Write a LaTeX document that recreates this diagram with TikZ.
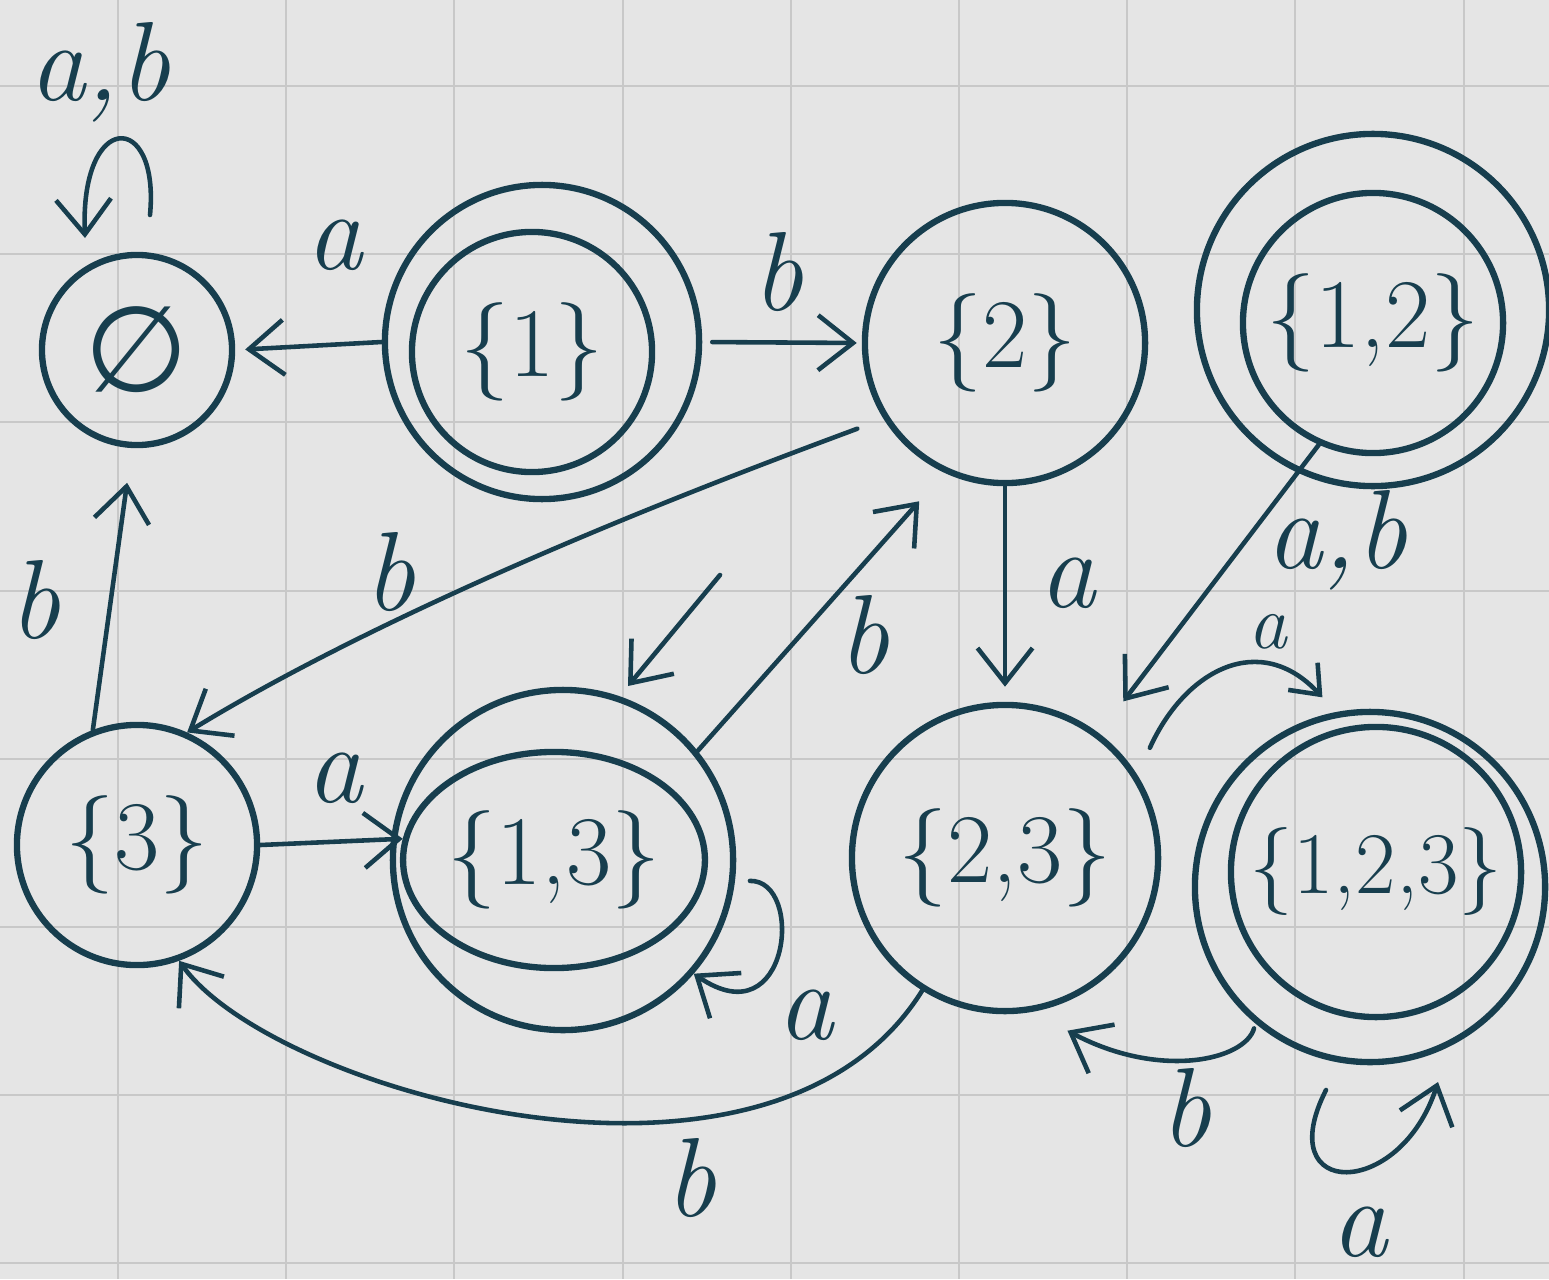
\documentclass[tikz,border=0pt]{standalone}
\usepackage{fontspec}
\newfontfamily\symfont{DejaVu Sans}
\usetikzlibrary{arrows.meta,shapes.geometric}
\definecolor{ink}{HTML}{173E4E}
\definecolor{bgc}{HTML}{E5E5E5}
\definecolor{gridc}{HTML}{C8C8C8}
\begin{document}
\begin{tikzpicture}[x=0.01cm,y=-0.01cm,
  st/.style={circle,draw=ink,line width=1.8pt,inner sep=0pt,text=ink,font=\fontsize{28}{32}\selectfont},
  el/.style={ellipse,draw=ink,line width=1.8pt,inner sep=0pt,text=ink,font=\fontsize{28}{32}\selectfont},
  edge/.style={draw=ink,line width=1.3pt,line cap=round,-{Straight Barb[length=3.5mm,width=5.5mm,line width=1.3pt]}},
  smalledge/.style={draw=ink,line width=1.3pt,line cap=round,-{Straight Barb[length=2.5mm,width=4mm,line width=1.3pt]}},
  lbl/.style={text=ink,inner sep=0pt,font=\fontsize{32}{36}\selectfont\itshape},
  smalllbl/.style={text=ink,inner sep=0pt,font=\fontsize{22}{26}\selectfont\itshape},
  gridline/.style={draw=gridc,line width=0.6pt}]
\useasboundingbox (0,0) rectangle (1549,1279);
\fill[bgc] (0,0) rectangle (1549,1279);
\foreach \i in {0,...,8} \draw[gridline] ({118+168.2*\i},0) -- ({118+168.2*\i},1279);
\foreach \i in {0,...,7} \draw[gridline] (0,{86+168.2*\i}) -- (1549,{86+168.2*\i});

% states
\node[st,minimum size=1.9cm,font=\fontsize{34}{38}\selectfont\symfont] (e) at (137,350) {∅};
\node[st,minimum size=3.14cm] (s1o) at (542,342) {};
\node[st,minimum size=2.4cm] (s1i) at (532,352) {\{1\}};
\node[st,minimum size=2.8cm] (s2) at (1005,343) {\{2\}};
\node[st,minimum size=3.52cm] (s12o) at (1373,310) {};
\node[st,minimum size=2.6cm] (s12i) at (1373,323) {\{1,2\}};
\node[st,minimum size=2.4cm] (s3) at (137,845) {\{3\}};
\node[st,minimum size=3.4cm] (s13o) at (563,860) {};
\node[el,minimum width=2.98cm,minimum height=2.16cm] (s13i) at (554,860) {\{1,3\}};
\node[st,minimum size=3.06cm] (s23) at (1005,858) {\{2,3\}};
\node[st,minimum size=3.5cm] (s123o) at (1370,887) {};
\node[st,minimum size=2.9cm,font=\fontsize{25}{30}\selectfont] (s123i) at (1376,872) {\{1,2,3\}};

% free ends
\coordinate (ela) at (150,215);
\coordinate (elb) at (85,238);
\coordinate (sa) at (720,575);
\coordinate (sb) at (628,686);
\coordinate (la) at (1326,1090);
\coordinate (lb) at (1438,1082);

% edges
\draw[edge,shorten >=1mm] (s1o.west) -- (e.east);
\node[lbl] (l1) at (335,245) {a};

\draw[edge,shorten <=1mm,shorten >=0.5mm] (s1o.east) -- (s2.west);
\node[lbl] (l2) at (778,272) {b};

\draw[edge] (ela) .. controls (160,110) and (80,110) .. (elb);
\node[lbl] (l3) at (100,72) {a,b};

\draw[edge,shorten <=2.8mm] (s2.212) .. controls (760,465) and (420,590) .. (s3.66);
\node[lbl] (l4) at (390,572) {b};

\draw[edge,shorten >=1.5mm] (s2.south) -- (s23.north);
\node[lbl] (l5) at (1068,583) {a};

\draw[edge,shorten >=3.8mm] (s13o.39) -- (s2.245);
\node[lbl] (l6) at (864,635) {b};

\draw[edge] (sa) -- (sb);

\draw[edge,shorten >=4mm] (s12i.246) -- (s23.53);
\node[lbl] (l8) at (1337,540) {a,b};

\draw[smalledge,shorten <=3mm,shorten >=2mm] (s23.32) .. controls (1185,670) and (1260,630) .. (s123o.101);
\node[smalllbl] (l9) at (1268,632) {a};

\draw[edge,shorten <=0.5mm,shorten >=4mm] (s123o.230) .. controls (1245,1060) and (1160,1080) .. (s23.280);
\node[lbl] (l10) at (1186,1108) {b};

\draw[edge] (la) .. controls (1270,1200) and (1400,1200) .. (lb);
\node[lbl] (l11) at (1360,1232) {a};

\draw[edge,shorten >=3.5mm] (s3.111) -- (e.267);
\node[lbl] (l12) at (35,600) {b};

\draw[edge] (s3.east) -- (s13i.172);
\node[lbl] (l13) at (335,778) {a};

\draw[edge,shorten <=1.5mm] (s13o.353) .. controls (805,880) and (790,1040) .. (s13o.319);
\node[lbl] (l14) at (806,1015) {a};

\draw[edge] (s23.238) .. controls (770,1235) and (270,1090) .. (s3.290);
\node[lbl] (l15) at (691,1178) {b};
\end{tikzpicture}
\end{document}
